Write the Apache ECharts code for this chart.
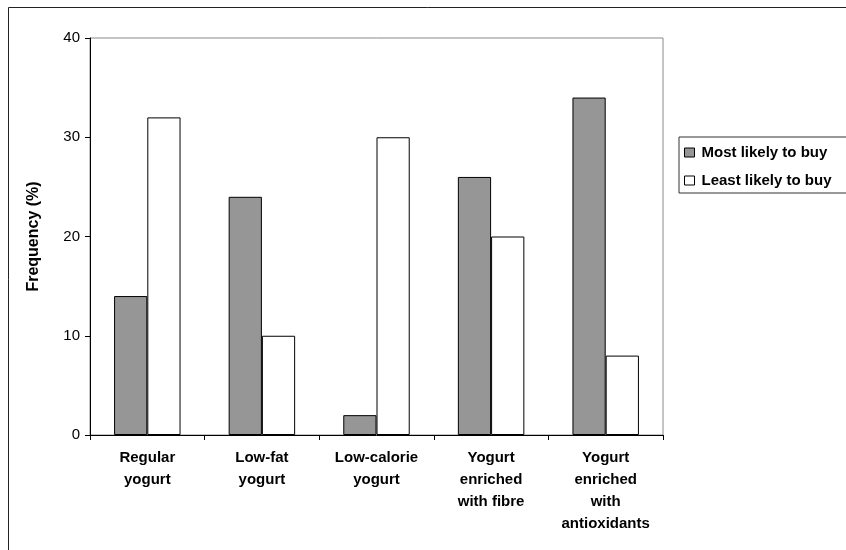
<!DOCTYPE html>
<html>
<head>
<meta charset="utf-8">
<script src="https://cdn.jsdelivr.net/npm/echarts@6/dist/echarts.min.js"></script>
<style>html,body{margin:0;padding:0;background:#fff;}#c{width:846px;height:550px;}</style>
</head>
<body>
<div id="c"></div>
<script>
const categories = ["Regular\nyogurt", "Low-fat\nyogurt", "Low-calorie\nyogurt", "Yogurt\nenriched\nwith fibre", "Yogurt\nenriched\nwith\nantioxidants"];
const seriesNames = ["Most likely to buy", "Least likely to buy"];
const mostLikely = [14, 24, 2, 26, 34];
const leastLikely = [32, 10, 30, 20, 8];
const yTicks = {min: 0, max: 40, interval: 10};
const yAxisTitle = "Frequency (%)";

const FONT = "'Liberation Sans', Arial, sans-serif";
const chart = echarts.init(document.getElementById('c'), null, {renderer: 'canvas'});
chart.setOption({
  animation: false,
  backgroundColor: '#fff',
  graphic: [{
    type: 'rect', silent: true,
    shape: {x: 8.5, y: 7.5, width: 1000, height: 1000},
    style: {fill: 'none', stroke: '#222', lineWidth: 1}
  }],
  grid: {left: 90, right: 183, top: 38, bottom: 115, show: true, borderColor: '#888', borderWidth: 1, backgroundColor: 'transparent'},
  legend: {
    orient: 'vertical', left: 679, top: 137,
    data: seriesNames,
    itemWidth: 10, itemHeight: 9, itemGap: 13,
    padding: [8, 30, 5, 5],
    borderColor: '#333', borderWidth: 1,
    icon: 'rect',
    textStyle: {fontFamily: FONT, fontWeight: 'bold', fontSize: 15, color: '#000', padding: [0, 0, 0, 2]},
    itemStyle: {borderColor: '#000', borderWidth: 1}
  },
  xAxis: {
    type: 'category', data: categories,
    axisLine: {lineStyle: {color: '#000', width: 1}},
    axisTick: {show: true, inside: false, length: 5, lineStyle: {color: '#000'}},
    axisLabel: {fontFamily: FONT, fontWeight: 'bold', fontSize: 15, color: '#000', lineHeight: 22, margin: 12, interval: 0}
  },
  yAxis: {
    type: 'value', min: yTicks.min, max: yTicks.max, interval: yTicks.interval,
    name: yAxisTitle, nameLocation: 'middle', nameGap: 48, nameRotate: 90,
    nameTextStyle: {fontFamily: FONT, fontWeight: 'bold', fontSize: 16, color: '#000'},
    axisLine: {show: true, lineStyle: {color: '#000', width: 1}},
    axisTick: {show: true, inside: false, length: 5, lineStyle: {color: '#000'}},
    splitLine: {show: false},
    axisLabel: {fontFamily: FONT, fontSize: 15, color: '#000', margin: 10}
  },
  series: [
    {name: seriesNames[0], type: 'bar', data: mostLikely, barGap: '0%', barCategoryGap: '42%',
     itemStyle: {color: '#969696', borderColor: '#000', borderWidth: 1}},
    {name: seriesNames[1], type: 'bar', data: leastLikely, barGap: '0%', barCategoryGap: '42%',
     itemStyle: {color: '#ffffff', borderColor: '#000', borderWidth: 1}}
  ]
});
</script>
</body>
</html>
